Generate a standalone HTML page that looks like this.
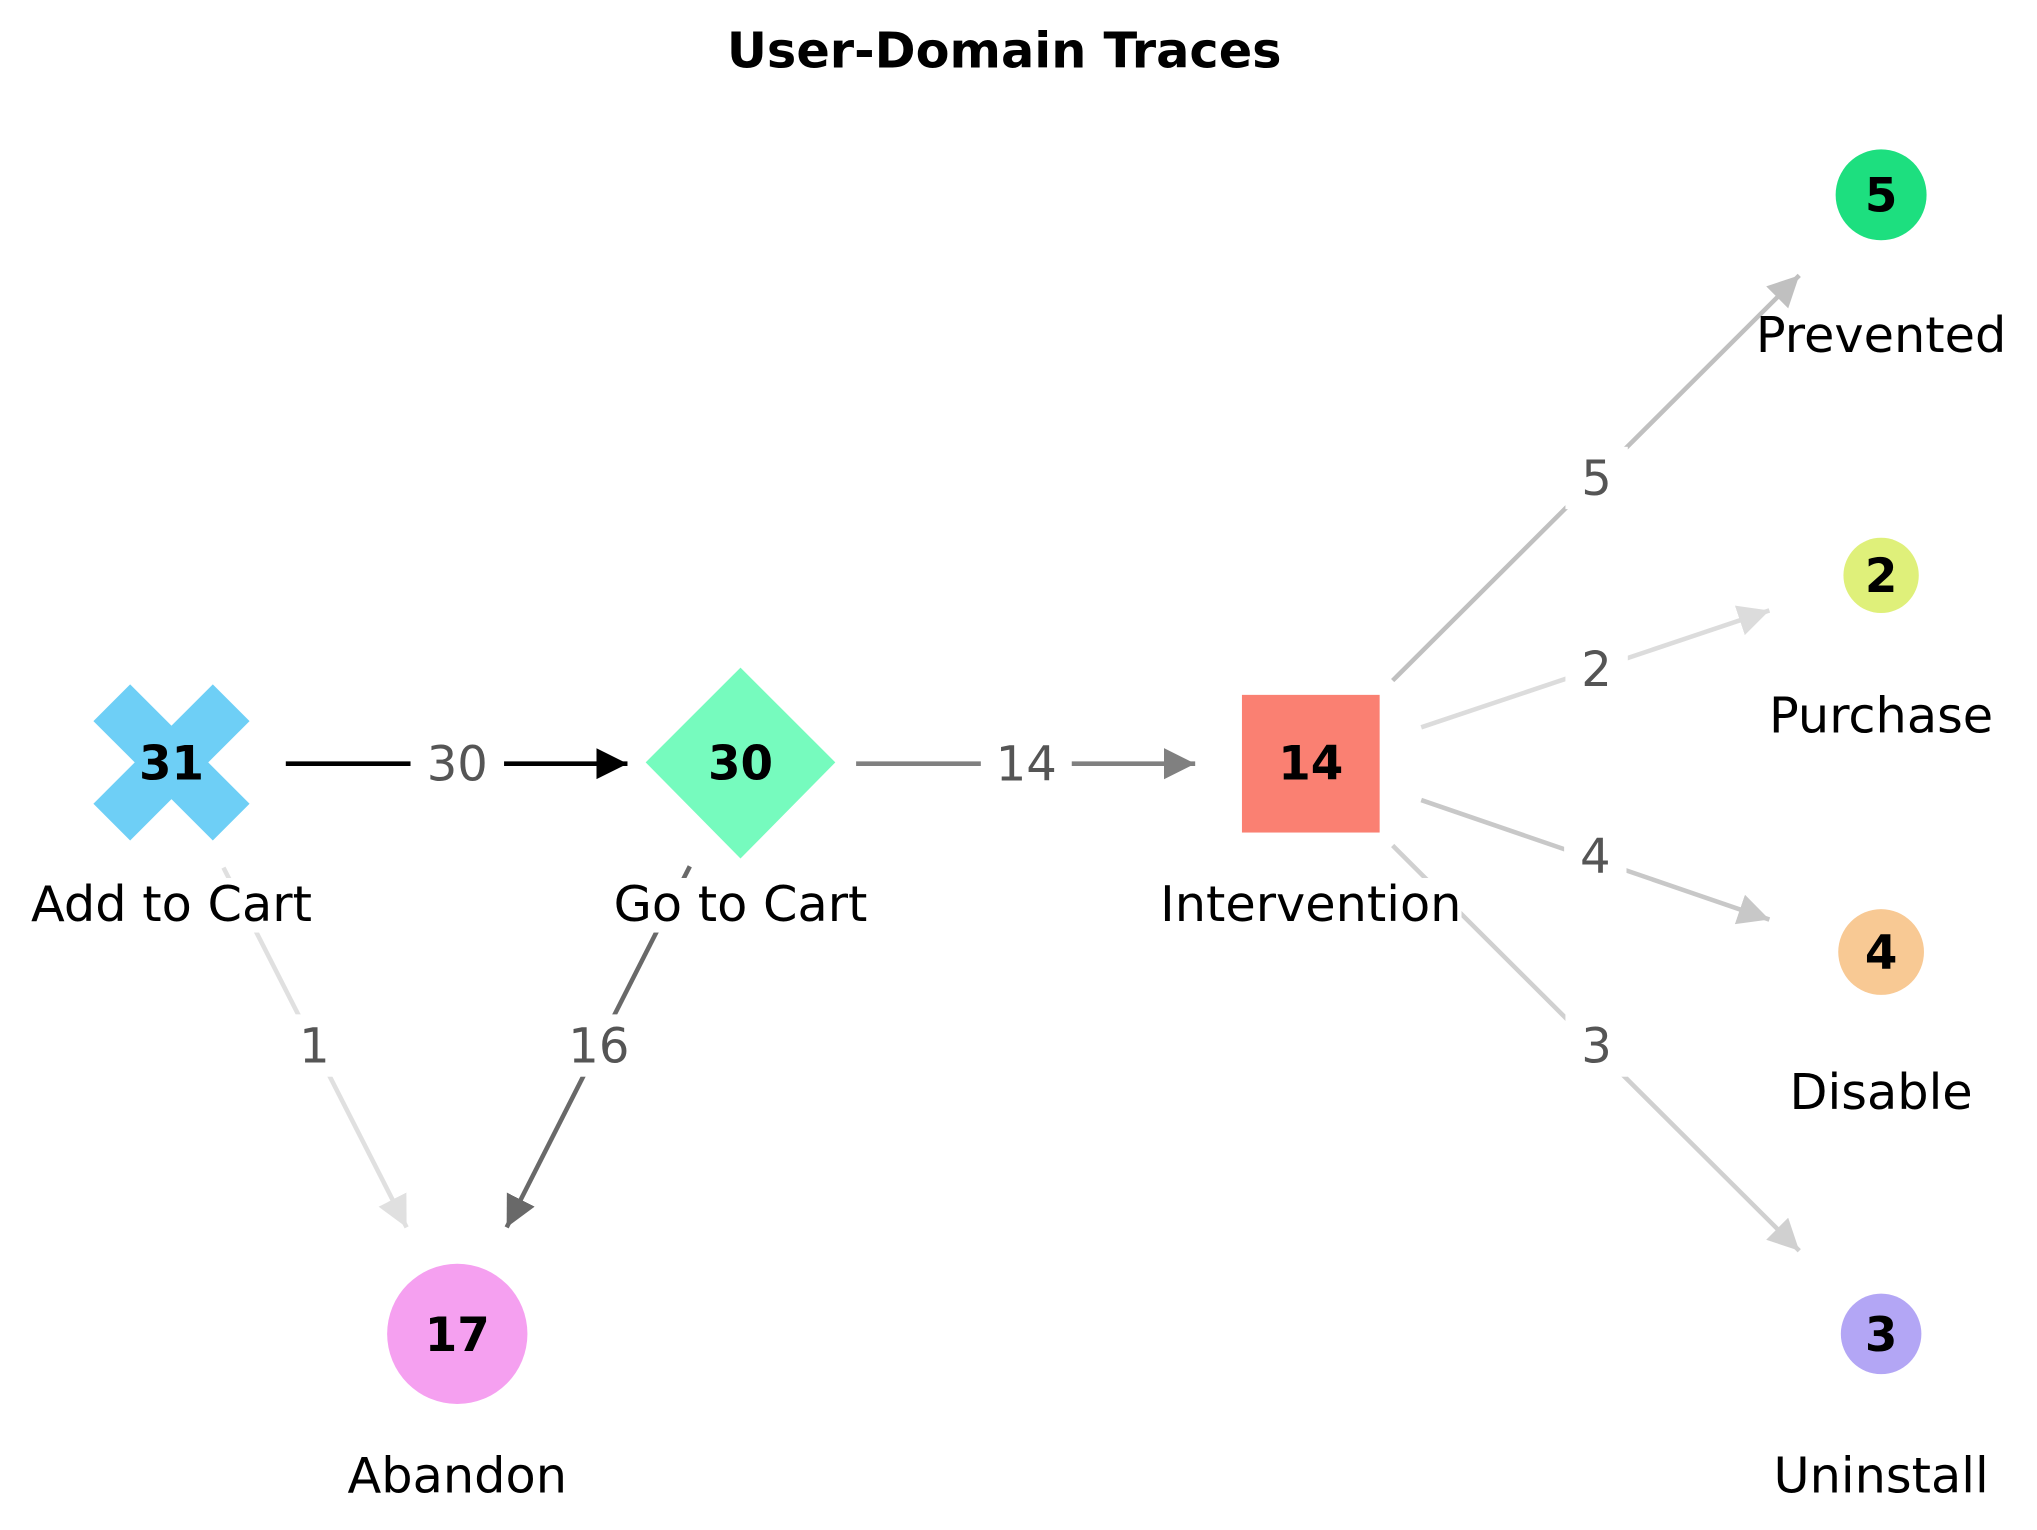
<!DOCTYPE html>
<html><head><meta charset="utf-8"><style>
html,body{margin:0;padding:0;background:#fff;}
svg{display:block;}
text{font-family:"DejaVu Sans","Liberation Sans",sans-serif;}
</style></head><body>
<svg width="2037" height="1530" viewBox="0 0 1568 1178" preserveAspectRatio="none" xmlns="http://www.w3.org/2000/svg">
<defs>
<marker id="m0" markerUnits="userSpaceOnUse" markerWidth="24" markerHeight="24" refX="24" refY="12" orient="auto"><path d="M0,0 L24,12 L0,24 z" fill="#000"/></marker>
<marker id="m1" markerUnits="userSpaceOnUse" markerWidth="24" markerHeight="24" refX="24" refY="12" orient="auto"><path d="M0,0 L24,12 L0,24 z" fill="#808080"/></marker>
<marker id="m2" markerUnits="userSpaceOnUse" markerWidth="24" markerHeight="24" refX="24" refY="12" orient="auto"><path d="M0,0 L24,12 L0,24 z" fill="#c0c0c0"/></marker>
<marker id="m3" markerUnits="userSpaceOnUse" markerWidth="24" markerHeight="24" refX="24" refY="12" orient="auto"><path d="M0,0 L24,12 L0,24 z" fill="#dcdcdc"/></marker>
<marker id="m4" markerUnits="userSpaceOnUse" markerWidth="24" markerHeight="24" refX="24" refY="12" orient="auto"><path d="M0,0 L24,12 L0,24 z" fill="#c8c8c8"/></marker>
<marker id="m5" markerUnits="userSpaceOnUse" markerWidth="24" markerHeight="24" refX="24" refY="12" orient="auto"><path d="M0,0 L24,12 L0,24 z" fill="#d0d0d0"/></marker>
<marker id="m6" markerUnits="userSpaceOnUse" markerWidth="24" markerHeight="24" refX="24" refY="12" orient="auto"><path d="M0,0 L24,12 L0,24 z" fill="#e0e0e0"/></marker>
<marker id="m7" markerUnits="userSpaceOnUse" markerWidth="24" markerHeight="24" refX="24" refY="12" orient="auto"><path d="M0,0 L24,12 L0,24 z" fill="#696969"/></marker>
</defs>

<text x="773" y="52" font-size="38" font-weight="bold" text-anchor="middle" fill="#000">User-Domain Traces</text>

<g stroke-width="3.5" fill="none">
<line x1="220" y1="588" x2="483" y2="588" stroke="#000" marker-end="url(#m0)"/>
<line x1="659" y1="588" x2="920" y2="588" stroke="#808080" marker-end="url(#m1)"/>
<line x1="1072" y1="524" x2="1385" y2="212" stroke="#c0c0c0" marker-end="url(#m2)"/>
<line x1="1094" y1="560" x2="1362" y2="470" stroke="#dcdcdc" marker-end="url(#m3)"/>
<line x1="1094" y1="616" x2="1362" y2="708" stroke="#c8c8c8" marker-end="url(#m4)"/>
<line x1="1072" y1="651" x2="1385" y2="963" stroke="#d0d0d0" marker-end="url(#m5)"/>
<line x1="172" y1="668" x2="313" y2="945" stroke="#e0e0e0" marker-end="url(#m6)"/>
<line x1="531" y1="667" x2="390" y2="945" stroke="#696969" marker-end="url(#m7)"/>
</g>

<g font-size="37" fill="#555" text-anchor="middle">
<rect x="316" y="564" width="72" height="48" fill="#fff"/><text x="352" y="601">30</text>
<rect x="755" y="564" width="70" height="48" fill="#fff"/><text x="790" y="601">14</text>
<rect x="1205" y="344" width="48" height="48" fill="#fff"/><text x="1229" y="381">5</text>
<rect x="1205" y="491" width="48" height="48" fill="#fff"/><text x="1229" y="528">2</text>
<rect x="1204" y="635" width="48" height="48" fill="#fff"/><text x="1228" y="672">4</text>
<rect x="1205" y="781" width="48" height="48" fill="#fff"/><text x="1229" y="818">3</text>
<rect x="218" y="781" width="48" height="48" fill="#fff"/><text x="242" y="818">1</text>
<rect x="425" y="781" width="72" height="48" fill="#fff"/><text x="461" y="818">16</text>
</g>

<g>
<g transform="translate(132,587) rotate(45)" fill="#6ecff6">
<rect x="-65" y="-20" width="130" height="40"/>
<rect x="-20" y="-65" width="40" height="130"/>
</g>
<polygon points="570,514 643,587 570,661 497,587" fill="#76fbbe"/>
<rect x="956" y="535" width="106" height="106" fill="#fa8072"/>
<circle cx="352" cy="1027" r="54" fill="#f5a0f0"/>
<circle cx="1448" cy="150" r="35" fill="#1ddf7f"/>
<circle cx="1448" cy="443" r="29" fill="#dff07a"/>
<circle cx="1448" cy="733" r="33" fill="#f8c994"/>
<circle cx="1448" cy="1027" r="31" fill="#b3a6f5"/>
</g>

<g font-size="36" font-weight="bold" fill="#000" text-anchor="middle">
<text x="132" y="600">31</text>
<text x="570" y="600">30</text>
<text x="1009" y="600">14</text>
<text x="352" y="1040">17</text>
<text x="1448" y="163">5</text>
<text x="1448" y="456">2</text>
<text x="1448" y="746">4</text>
<text x="1448" y="1040">3</text>
</g>

<g fill="#fff">
<rect x="22" y="676" width="220" height="42"/>
<rect x="472" y="676" width="196" height="42"/>
<rect x="893" y="676" width="232" height="42"/>
</g>
<g font-size="38" fill="#000" text-anchor="middle">
<text x="132" y="709">Add to Cart</text>
<text x="570" y="709">Go to Cart</text>
<text x="1009" y="709">Intervention</text>
<text x="352" y="1149">Abandon</text>
<text x="1448" y="271">Prevented</text>
<text x="1448" y="564">Purchase</text>
<text x="1448" y="854">Disable</text>
<text x="1448" y="1149">Uninstall</text>
</g>
</svg>
</body></html>
